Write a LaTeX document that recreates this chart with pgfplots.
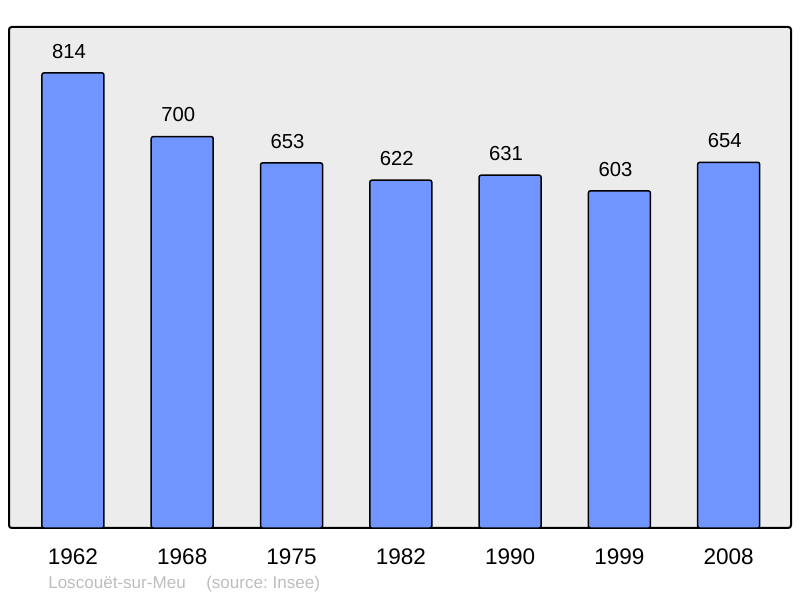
\documentclass[border=0pt]{standalone}
\usepackage{fontspec}
\setmainfont{Liberation Sans}
\usepackage{pgfplots}
\pgfplotsset{compat=1.18}
\definecolor{bgray}{HTML}{ECECEC}
\definecolor{barblue}{HTML}{7095FF}
\definecolor{notegray}{HTML}{BDBDBD}
\frenchspacing
\begin{document}
\begin{tikzpicture}
\begin{axis}[
    name=ax,
    scale only axis,
    width=586.5pt,
    height=375.75pt,
    xmin=-0.585, xmax=6.57,
    ymin=0, ymax=896,
    ybar,
    bar width=46.5pt,
    axis line style={draw=none},
    axis background/.style={fill=bgray, draw=black, line width=1.5pt, rounded corners=2pt},
    xtick=data,
    xticklabels={1962,1968,1975,1982,1990,1999,2008},
    major tick length=0pt,
    ytick=\empty,
    xticklabel style={font=\fontsize{16.9}{18}\selectfont, anchor=base, yshift=-27.75pt},
    nodes near coords,
    nodes near coords style={font=\fontsize{15.2}{16}\selectfont, anchor=base, yshift=11pt, xshift=-3pt, inner sep=0pt},
    /pgf/number format/assume math mode=true,
]
\addplot[fill=barblue, draw=black, line width=1.1pt, rounded corners=1.5pt]
    coordinates {(0,814) (1,700) (2,653) (3,622) (4,631) (5,603) (6,654)};
\end{axis}
\node[anchor=base west, text=notegray, inner sep=0pt, font=\fontsize{12.8}{14}\selectfont,
      xshift=29.25pt, yshift=-45.75pt] at (ax.south west) {Loscouët-sur-Meu\hspace{1.2em}(source: Insee)};
\pgfresetboundingbox
\path ([xshift=-6.75pt, yshift=-52.5pt]ax.south west) rectangle ([xshift=6.75pt, yshift=20.25pt]ax.north east);
\end{tikzpicture}
\end{document}
